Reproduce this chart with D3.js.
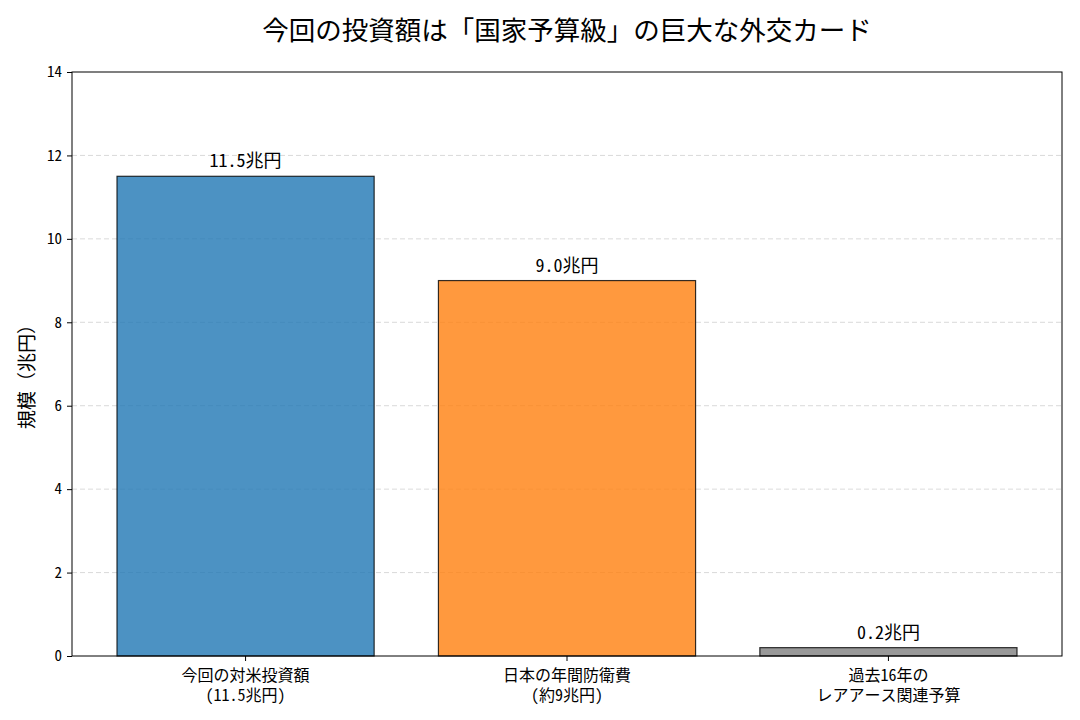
<!DOCTYPE html>
<html>
<head>
<meta charset="utf-8">
<script src="https://cdn.jsdelivr.net/npm/d3@7"></script>
<style>
  body { margin: 0; background: #fff; }
  text { font-family: "Noto Sans Mono CJK JP", "Noto Sans CJK JP", sans-serif; fill: #000; }
</style>
</head>
<body>
<div id="chart"></div>
<script>
// data
const categories = ["今回の対米投資額\n(11.5兆円)", "日本の年間防衛費\n(約9兆円)", "過去16年の\nレアアース関連予算"];
const values = [11.5, 9.0, 0.2];
const valueLabels = ["11.5兆円", "9.0兆円", "0.2兆円"];
const barColors = ["#1f77b4", "#ff7f0e", "#808080"];
const yTicks = [0, 2, 4, 6, 8, 10, 12, 14];

const W = 1080, H = 720;
const margin = { top: 72, right: 18, bottom: 64, left: 72 },
    width = W - margin.left - margin.right,
    height = H - margin.top - margin.bottom;

const svg = d3.select("#chart")
    .append("svg")
    .attr("width", W)
    .attr("height", H);

const g = svg.append("g")
    .attr("transform", `translate(${margin.left},${margin.top})`);

// x is index-based like matplotlib, y linear
const x = d3.scaleLinear().domain([-0.54, 2.54]).range([0, width]);
const y = d3.scaleLinear().domain([0, 14]).range([height, 0]);
const barW = x(0.4) - x(-0.4);

// grid
g.selectAll(".grid")
    .data(yTicks.slice(1, -1))
    .join("line")
    .attr("x1", 0).attr("x2", width)
    .attr("y1", d => y(d)).attr("y2", d => y(d))
    .attr("stroke", "#b0b0b0")
    .attr("stroke-opacity", 0.6)
    .attr("stroke-dasharray", "5,3")
    .attr("stroke-width", 0.8);

// bars
g.selectAll(".bar")
    .data(values)
    .join("rect")
    .attr("x", (d, i) => x(i) - barW / 2)
    .attr("y", d => y(d))
    .attr("width", barW)
    .attr("height", d => y(0) - y(d))
    .attr("fill", (d, i) => barColors[i])
    .attr("fill-opacity", 0.8)
    .attr("stroke", "#000")
    .attr("stroke-opacity", 0.8)
    .attr("stroke-width", 1.2);

// value labels
g.selectAll(".vlabel")
    .data(values)
    .join("text")
    .attr("x", (d, i) => x(i))
    .attr("y", d => y(d) - 9)
    .attr("text-anchor", "middle")
    .style("font-size", "18px")
    .text((d, i) => valueLabels[i]);

// y axis
const yAxis = g.append("g")
    .call(d3.axisLeft(y).tickValues(yTicks).tickSize(5).tickPadding(5));
yAxis.select(".domain").remove();
yAxis.selectAll("text").style("font-size", "15px");

// x axis ticks + two-line labels
const xAxis = g.append("g").attr("transform", `translate(0,${height})`);
xAxis.selectAll("line")
    .data(categories)
    .join("line")
    .attr("x1", (d, i) => x(i)).attr("x2", (d, i) => x(i))
    .attr("y1", 0).attr("y2", 5)
    .attr("stroke", "#000");
xAxis.selectAll("text")
    .data(categories)
    .join("text")
    .attr("text-anchor", "middle")
    .style("font-size", "16px")
    .each(function (d, i) {
        d3.select(this).selectAll("tspan")
            .data(d.split("\n"))
            .join("tspan")
            .attr("x", x(i))
            .attr("y", (t, j) => 25 + j * 20)
            .text(t => t);
    });

// frame
g.append("rect")
    .attr("width", width).attr("height", height)
    .attr("fill", "none")
    .attr("stroke", "#000")
    .attr("stroke-width", 1);

// axis label
svg.append("text")
    .attr("transform", `translate(34,${margin.top + height / 2 + 8}) rotate(-90)`)
    .attr("text-anchor", "middle")
    .style("font-size", "19px")
    .text("規模（兆円）");

// title
svg.append("text")
    .attr("x", margin.left + width / 2)
    .attr("y", 40)
    .attr("text-anchor", "middle")
    .style("font-size", "26.5px")
    .text("今回の投資額は「国家予算級」の巨大な外交カード");
</script>
</body>
</html>
